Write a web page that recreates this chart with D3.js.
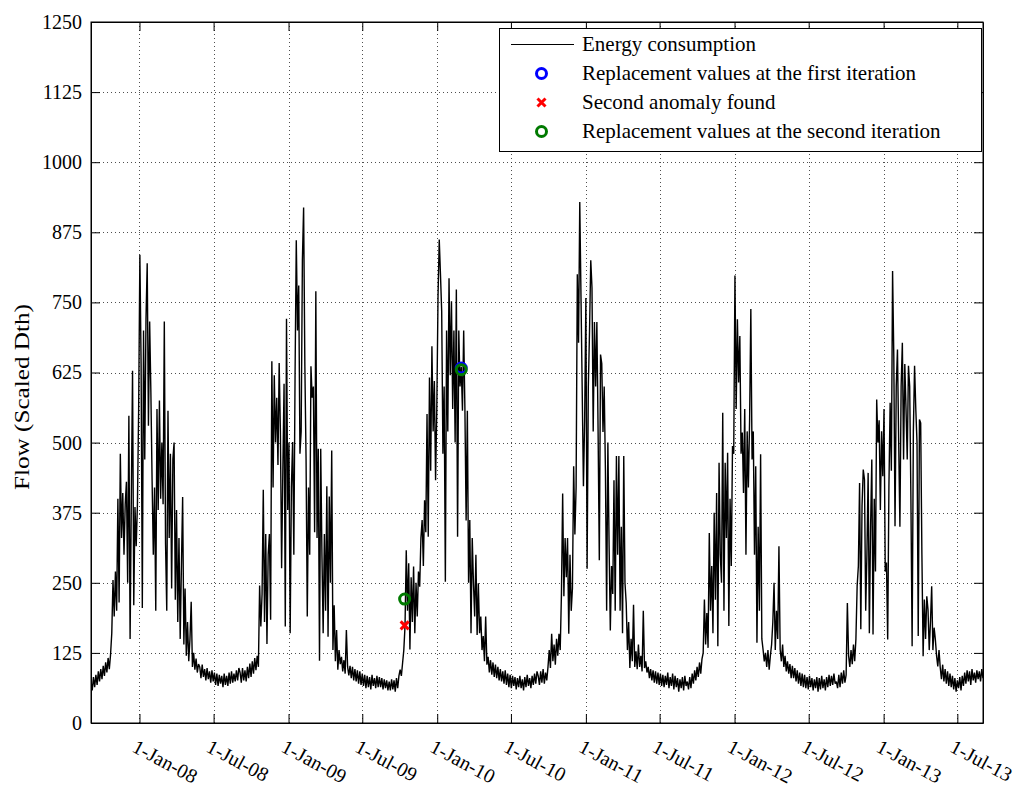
<!DOCTYPE html>
<html>
<head>
<meta charset="utf-8">
<script src="https://cdn.jsdelivr.net/npm/d3@7"></script>
<style>
  html, body { margin: 0; padding: 0; background: #fff; }
  svg { display: block; }
  text { font-family: "Liberation Serif", "Times New Roman", serif; fill: #000; }
</style>
</head>
<body>
<script>
// ---------------- DATA (3-day samples starting 4-Sep-2007) ----------------
const seriesStart = "2007-09-04";
const seriesEnd = "2013-09-02";
const stepDays = 3;

const flow0708 = [74, 58, 82, 64, 86, 68, 92, 74, 96, 78, 102, 84, 108, 90, 116, 96, 122,
  160, 255, 190, 270, 200, 400, 215, 480, 330, 410, 300, 390, 430, 250,
  548, 150, 400, 628, 210, 385, 315, 390, 560, 835, 640, 205, 700, 470, 720, 820, 530, 716, 590,
  432, 300, 420, 200, 560, 380, 575, 400, 500, 390, 716, 320, 200, 557, 330, 480, 240, 470, 500, 220,
  380, 180, 330, 150, 280, 403, 140, 240, 120, 180, 110, 150, 216, 100, 125, 95, 115, 90, 105,
  100, 80, 104, 82, 96, 76, 98, 78, 92, 72, 94, 74, 90, 68, 88, 66, 86, 70, 84, 64, 88, 68, 84, 66, 90, 70, 92, 72, 88, 74, 94, 76, 98];

const flow0809 = [90, 72, 98, 76, 94, 74, 100, 80, 106, 82, 110, 88, 116, 94, 120, 100,
  245, 172, 230, 416, 180, 337, 141, 300, 337, 184, 645, 420, 620, 500, 580, 460, 642, 520,
  276, 450, 605, 172, 721, 380, 500, 160, 420, 501, 300, 620, 861, 700, 780, 480, 520, 825, 919, 640,
  471, 190, 420, 300, 636, 580, 600, 340, 770, 330, 489, 111, 489, 300, 160, 337, 200, 422, 154, 404,
  250, 486, 130, 210, 110, 166,
  95, 130, 105, 118, 92, 112, 88, 166, 100, 85,
  102, 80, 100, 76, 96, 74, 94, 70, 92, 68, 88, 66, 86, 62, 84, 64, 82, 60, 86, 66, 80, 62, 84, 64, 82, 64, 80, 60, 78, 62, 76, 58];

const flow0910 = [74, 58, 78, 60, 76, 56, 80, 62, 84, 95, 84, 107, 130,
  173, 308, 200, 285, 131, 260, 180, 279, 160, 250, 190, 270, 243, 330, 362, 280, 397, 340, 551, 332,
  616, 450, 672, 520, 610, 433, 560, 760, 862, 800, 734, 480, 600, 252, 700, 520, 793, 620, 752, 560,
  700, 500, 773, 332, 700, 600, 635, 557, 700, 560, 361, 557, 250, 362, 160, 330, 249, 190, 300, 157,
  249, 160, 190, 130, 155, 110, 190,
  104, 118, 90, 112, 86, 108, 82, 104, 80, 100, 76, 96, 74, 92, 70, 94, 68, 88, 64, 86, 62, 84, 66, 82,
  60, 80, 64, 84, 62, 78, 58, 82, 64, 86, 66, 80, 62, 84, 68, 88, 70, 92];

const flow1011 = [84, 68, 92, 72, 96, 70, 90, 76, 100, 130, 98, 159, 110, 140, 104, 150, 120, 159, 130,
  230, 409, 226, 330, 260, 330, 159, 300, 200, 240, 458, 336, 420, 800,
  678, 929, 760, 593, 422, 540, 758, 275, 600, 700, 825, 776, 520, 715, 600, 715, 520, 290, 657, 641,
  519, 600, 450, 200, 500, 318, 165, 280, 230, 433, 200, 476, 300, 476, 200, 350, 160, 476, 250, 214,
  130, 180, 98, 150, 110, 211, 100, 128, 96, 140, 100, 120, 92, 200, 98, 110, 90,
  100, 80, 96, 76, 94, 72, 92, 70, 90, 68, 88, 66, 86, 64, 84, 68, 90, 62, 82, 66, 88, 60, 84, 64, 80, 56, 78, 62, 82, 58, 84, 66];

const flow1112 = [74, 60, 82, 62, 88, 70, 94, 76, 100, 82, 108, 88, 114,
  125, 220, 140, 196, 134, 339, 200, 280, 160, 375, 220, 410, 137, 464, 300, 250,
  553, 200, 464, 330, 482, 173, 400,
  280, 494, 480, 798, 560, 720, 607, 690, 480, 518, 410, 560, 300, 520, 420, 541, 738, 470, 520, 300,
  458, 143, 350, 200, 479, 150, 131, 110, 125, 100, 130, 95, 120, 140, 180, 250, 130, 200, 150, 315,
  131, 110, 140, 100, 120, 92, 110, 88, 105, 80,
  102, 80, 98, 74, 94, 70, 90, 66, 88, 64, 86, 62, 82, 60, 84, 64, 80, 58, 78, 62, 82, 56, 80, 60, 84, 62,
  78, 58, 82, 64, 86, 66, 84, 68, 88, 70];

const flow1213 = [74, 62, 86, 64, 90, 70, 94, 72, 86, 214, 120, 100, 130, 105, 140, 110, 150, 244, 280,
  428, 167, 387, 452, 434, 200, 300, 446, 160, 350, 470, 158, 400, 270, 577, 500, 540,
  380, 520, 440, 560, 270, 286, 149, 420, 571, 450, 806, 654, 351, 600, 666, 500,
  350, 600, 678, 470, 640, 560, 470, 637, 600, 400, 137, 520, 637, 560, 500, 155, 541, 535, 300,
  119, 220, 150, 226, 202, 130, 180, 244, 130, 170, 149, 120, 101, 130,
  99, 78, 104, 74, 96, 70, 92, 66, 88, 64, 84, 60, 80, 56, 76, 62, 82, 58, 84, 66, 90, 70, 94, 74,
  92, 68, 96, 76, 90, 72, 94, 78, 92, 74, 96, 80];

// Anomaly markers
const firstReplDates = ["2010-03-01"];
const firstReplValues = [633];
const secondAnomalyDates = ["2009-10-13"];
const secondAnomalyValues = [174];
const secondReplDates = ["2009-10-13", "2010-03-01"];
const secondReplValues = [221, 630];

// Axes
const xTickDates = ["2008-01-01", "2008-07-01", "2009-01-01", "2009-07-01", "2010-01-01", "2010-07-01",
  "2011-01-01", "2011-07-01", "2012-01-01", "2012-07-01", "2013-01-01", "2013-07-01"];
const xTickLabels = ["1-Jan-08", "1-Jul-08", "1-Jan-09", "1-Jul-09", "1-Jan-10", "1-Jul-10",
  "1-Jan-11", "1-Jul-11", "1-Jan-12", "1-Jul-12", "1-Jan-13", "1-Jul-13"];
const yTicks = [0, 125, 250, 375, 500, 625, 750, 875, 1000, 1125, 1250];
const yLabel = "Flow (Scaled Dth)";
const legendLabels = ["Energy consumption", "Replacement values at the first iteration",
  "Second anomaly found", "Replacement values at the second iteration"];

// ---------------- BUILD ----------------
const parse = d3.utcParse("%Y-%m-%d");
const flow = [].concat(flow0708, flow0809, flow0910, flow1011, flow1112, flow1213);
const t0 = parse(seriesStart);
const series = flow.map((v, i) => ({ date: d3.utcDay.offset(t0, i * stepDays), value: v }));

const W = 1023, H = 794;
const L = 91, R = 983, T = 22, B = 723;
const FONT = "'Liberation Serif', 'Times New Roman', serif";

const x = d3.scaleUtc().domain([parse(seriesStart), parse(seriesEnd)]).range([L, R]);
const y = d3.scaleLinear().domain([0, 1250]).range([B, T]);

const svg = d3.select("body").append("svg").attr("width", W).attr("height", H);

svg.append("defs").append("clipPath").attr("id", "plotclip")
  .append("rect").attr("x", L).attr("y", T).attr("width", R - L).attr("height", B - T);

// grid
const grid = svg.append("g").attr("stroke", "#222").attr("stroke-width", 0.8)
  .attr("stroke-dasharray", "1,3").attr("fill", "none");
yTicks.filter(v => v > 0 && v < 1250).forEach(v => {
  grid.append("line").attr("x1", L).attr("x2", R).attr("y1", Math.round(y(v)) + 0.5).attr("y2", Math.round(y(v)) + 0.5);
});
xTickDates.forEach(d => {
  const px = Math.round(x(parse(d))) + 0.5;
  grid.append("line").attr("x1", px).attr("x2", px).attr("y1", T).attr("y2", B);
});

// data line
const line = d3.line().x(d => x(d.date)).y(d => y(d.value));
svg.append("path").datum(series)
  .attr("clip-path", "url(#plotclip)")
  .attr("d", line)
  .attr("fill", "none").attr("stroke", "#000").attr("stroke-width", 1.4)
  .attr("stroke-linejoin", "bevel");

// axes
const xTicksParsed = xTickDates.map(parse);
const gx = svg.append("g").attr("transform", `translate(0,${B})`)
  .call(d3.axisBottom(x).tickValues(xTicksParsed).tickSize(-9).tickSizeOuter(0)
    .tickFormat((d, i) => xTickLabels[i]));
gx.selectAll(".tick text")
  .attr("x", 0).attr("y", 0).attr("dy", null)
  .attr("transform", "translate(-9,28) rotate(28)")
  .style("text-anchor", "start")
  .style("font-size", "20px");

svg.append("g").attr("transform", `translate(0,${T})`)
  .call(d3.axisTop(x).tickValues(xTicksParsed).tickSize(-9).tickSizeOuter(0).tickFormat(""));

const gy = svg.append("g").attr("transform", `translate(${L},0)`)
  .call(d3.axisLeft(y).tickValues(yTicks).tickSize(-9).tickSizeOuter(0).tickPadding(9)
    .tickFormat(d3.format("d")));
gy.selectAll(".tick text").style("font-size", "20px");

svg.append("g").attr("transform", `translate(${R},0)`)
  .call(d3.axisRight(y).tickValues(yTicks).tickSize(-9).tickSizeOuter(0).tickFormat(""));

svg.selectAll(".domain, .tick line").attr("stroke", "#000").attr("stroke-width", 1);
svg.selectAll(".tick text").attr("fill", "#000").style("font-family", FONT);

// frame
svg.append("rect").attr("x", L).attr("y", T).attr("width", R - L).attr("height", B - T)
  .attr("fill", "none").attr("stroke", "#000").attr("stroke-width", 1);

// y label
svg.append("text")
  .attr("transform", `translate(29,397) rotate(-90)`)
  .attr("text-anchor", "middle")
  .attr("textLength", 186).attr("lengthAdjust", "spacingAndGlyphs")
  .style("font-size", "21px").style("font-family", FONT)
  .text(yLabel);

// markers
function circleMarker(g, cx, cy, color) {
  g.append("circle").attr("cx", cx).attr("cy", cy).attr("r", 5)
    .attr("fill", "none").attr("stroke", color).attr("stroke-width", 3);
}
function crossMarker(g, cx, cy, color) {
  const s = 4;
  g.append("path").attr("d", `M${cx - s},${cy - s}L${cx + s},${cy + s}M${cx - s},${cy + s}L${cx + s},${cy - s}`)
    .attr("stroke", color).attr("stroke-width", 3).attr("fill", "none");
}
const mk = svg.append("g");
firstReplDates.forEach((d, i) => circleMarker(mk, x(parse(d)), y(firstReplValues[i]), "#0000ff"));
secondAnomalyDates.forEach((d, i) => crossMarker(mk, x(parse(d)), y(secondAnomalyValues[i]), "#ff0000"));
secondReplDates.forEach((d, i) => circleMarker(mk, x(parse(d)), y(secondReplValues[i]), "#007a00"));

// legend
const lg = svg.append("g");
lg.append("rect").attr("x", 499.5).attr("y", 28.5).attr("width", 482).attr("height", 123)
  .attr("fill", "#fff").attr("stroke", "#000").attr("stroke-width", 1);
const rows = [44.5, 73.5, 102.5, 131.5];
lg.append("line").attr("x1", 511).attr("x2", 574).attr("y1", rows[0]).attr("y2", rows[0])
  .attr("stroke", "#000").attr("stroke-width", 1);
circleMarker(lg, 541.5, rows[1], "#0000ff");
crossMarker(lg, 541.5, rows[2], "#ff0000");
circleMarker(lg, 541.5, rows[3], "#007a00");
legendLabels.forEach((t, i) => {
  lg.append("text").attr("x", 582).attr("y", rows[i]).attr("dy", "0.33em")
    .style("font-size", "21px").style("font-family", FONT).text(t);
});
</script>
</body>
</html>
